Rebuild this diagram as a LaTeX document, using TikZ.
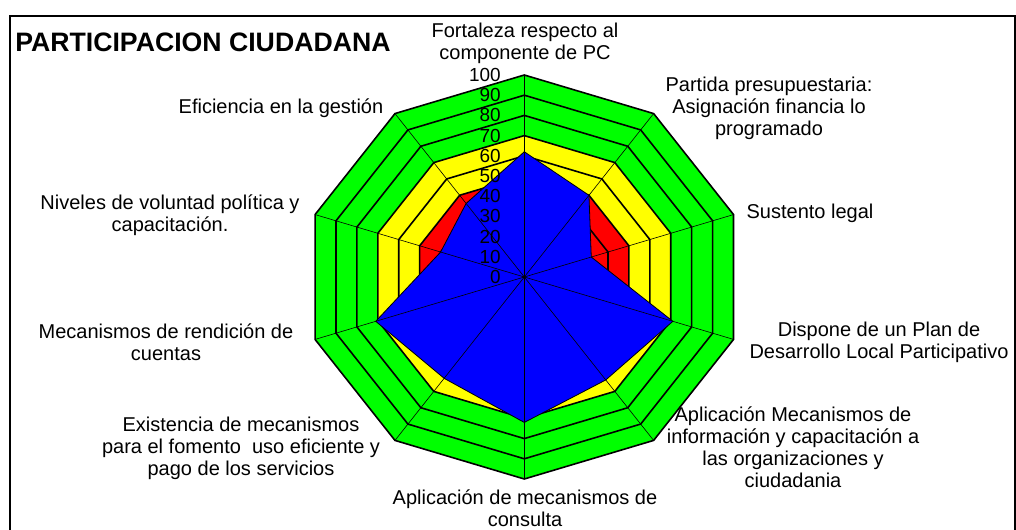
\documentclass[tikz,border=0pt]{standalone}
\usepackage{fontspec}
\setmainfont{Liberation Sans}
\newcommand{\rpt}[2]{({524.3+2.2*(#2)*cos(#1)},{277-2.02*(#2)*sin(#1)})}
\newcommand{\radring}[2]{\filldraw[fill=#2, ringline] \rpt{90}{#1} \foreach \a in {54,18,-18,-54,-90,-126,-162,-198,-234} { -- \rpt{\a}{#1} } -- cycle;}
\definecolor{cgreen}{RGB}{0,255,0}
\definecolor{cyellow}{RGB}{255,255,0}
\definecolor{cred}{RGB}{255,0,0}
\definecolor{cblue}{RGB}{0,0,255}
\tikzset{
  ringline/.style={draw=black, line width=1.2pt, line join=miter},
  axisline/.style={draw=black, line width=0.45pt},
  dataline/.style={draw=black, line width=0.6pt, fill=cblue},
  lbl/.style={font=\fontsize{15}{16.5}\selectfont, align=center, inner sep=0pt},
  num/.style={font=\fontsize{14.2}{16}\selectfont, inner sep=0pt, anchor=east},
  frame/.style={draw=black, line width=1.5pt}
}
\begin{document}
\begin{tikzpicture}[x=0.75pt, y=-0.75pt]
\useasboundingbox (0,0) rectangle (1016,530);
\fill[white] (0,0) rectangle (1016,530);
\draw[frame] (10,16) rectangle (1014.5,560);
% rings
\radring{100}{cgreen}
\radring{90}{cgreen}
\radring{80}{cgreen}
\radring{70}{cyellow}
\radring{60}{cyellow}
\radring{50}{cred}
\radring{40}{cred}
% data
\filldraw[dataline] \rpt{90}{62} -- \rpt{54}{50} -- \rpt{18}{32} -- \rpt{-18}{71} -- \rpt{-54}{63} -- \rpt{-90}{72} -- \rpt{-126}{62} -- \rpt{-162}{71} -- \rpt{162}{40} -- \rpt{126}{45} -- cycle;
% axes
\coordinate (c) at (524.3,277);
\foreach \a in {90,54,18,-18,-54,-90,-126,-162,162,126} {
  \draw[axisline] (c) -- \rpt{\a}{100};
}
\fill[black] (c) circle (1.5);
% scale numbers
\foreach \v in {0,10,...,100} {
  \node[num] (n\v) at (501,{277-2.02*\v}) {\v};
}
% title
\node[font=\bfseries\fontsize{20}{24}\selectfont, anchor=west, inner sep=0pt] (title) at (15,42) {PARTICIPACION CIUDADANA};
% axis labels
\node[lbl] (l1) at (525,43) {Fortaleza respecto al\\componente de PC};
\node[lbl] (l2) at (769,108) {Partida presupuestaria:\\Asignación financia lo\\programado};
\node[lbl] (l3) at (810,213) {Sustento legal};
\node[lbl] (l4) at (879,342) {Dispone de un Plan de\\Desarrollo Local Participativo};
\node[lbl] (l5) at (793,447) {Aplicación Mecanismos de\\información y capacitación a\\las organizaciones y\\ciudadania};
\node[lbl] (l6) at (525,508) {Aplicación de mecanismos de\\consulta};
\node[lbl] (l7) at (241,448) {Existencia de mecanismos\\para el fomento~ uso eficiente y\\pago de los servicios};
\node[lbl] (l8) at (166,342) {Mecanismos de rendición de\\cuentas};
\node[lbl] (l9) at (170,215) {Niveles de voluntad política y\\capacitación.};
\node[lbl] (l10) at (281,108) {Eficiencia en la gestión};
\end{tikzpicture}
\end{document}
